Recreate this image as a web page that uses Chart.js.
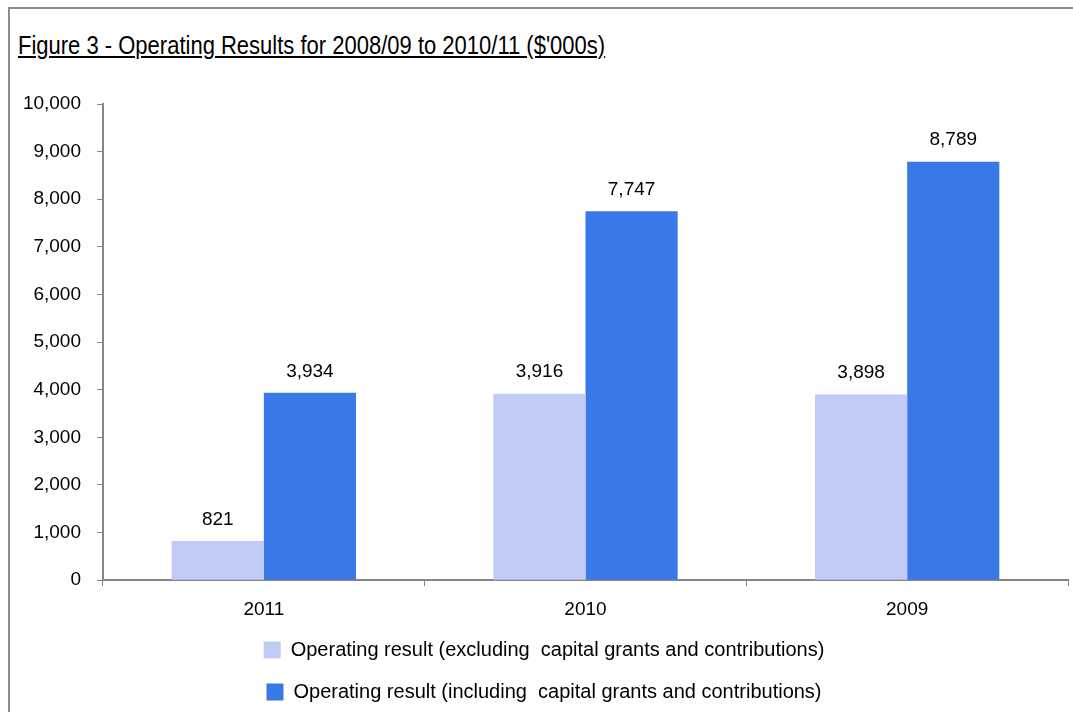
<!DOCTYPE html>
<html>
<head>
<meta charset="utf-8">
<script src="https://cdn.jsdelivr.net/npm/chart.js@4.4.1/dist/chart.umd.min.js"></script>
<style>
  html, body { margin: 0; padding: 0; background: #fff; overflow: hidden; }
  body { width: 1073px; height: 712px; position: relative; }
  #frame {
    position: absolute; left: 8px; top: 7px; width: 1100px; height: 720px;
    border-top: 2px solid #8c8c8c; border-left: 2px solid #8c8c8c;
  }
  #title {
    position: absolute; left: 18px; top: 31px;
    font-family: 'Liberation Sans Narrow', 'Arial Narrow', 'Liberation Sans', sans-serif;
    font-size: 25px; color: #000; text-decoration: underline;
    white-space: nowrap; transform: scaleX(0.88); transform-origin: left top;
  }
  #wrap { position: absolute; left: 0; top: 0; width: 1073px; height: 712px; }
</style>
</head>
<body>
<div id="frame"></div>
<div id="title">Figure 3 - Operating Results for 2008/09 to 2010/11 ($'000s)</div>
<div id="wrap"><canvas id="chart"></canvas></div>
<script>
// ── Data ─────────────────────────────────────────────────────
const years = ['2011', '2010', '2009'];
const excluding = [821, 3916, 3898];
const including = [3934, 7747, 8789];
const seriesNames = [
  'Operating result (excluding  capital grants and contributions)',
  'Operating result (including  capital grants and contributions)'
];

const lightBlue = '#c0cbf6';
const blue = '#3b78e7';
const axisGrey = '#868686';
const fontFamily = "'Liberation Sans Narrow', 'Arial Narrow', 'Liberation Sans', sans-serif";

// ── Value labels above bars ──────────────────────────────────
const valueLabels = {
  id: 'valueLabels',
  afterDatasetsDraw(chart) {
    const ctx = chart.ctx;
    ctx.save();
    ctx.font = `19px ${fontFamily}`;
    ctx.fillStyle = '#000';
    ctx.textAlign = 'center';
    ctx.textBaseline = 'bottom';
    chart.data.datasets.forEach((ds, i) => {
      chart.getDatasetMeta(i).data.forEach((bar, j) => {
        ctx.fillText(ds.data[j].toLocaleString('en-US'), bar.x, bar.y - 12);
      });
    });
    ctx.restore();
  }
};

Chart.defaults.font.family = fontFamily;
Chart.defaults.font.size = 19;
Chart.defaults.color = '#000';

new Chart(document.getElementById('chart'), {
  type: 'bar',
  data: {
    labels: years,
    datasets: [
      { label: seriesNames[0], data: excluding, backgroundColor: lightBlue },
      { label: seriesNames[1], data: including, backgroundColor: blue }
    ]
  },
  options: {
    responsive: true, maintainAspectRatio: false, animation: false,
    categoryPercentage: 0.573, barPercentage: 1,
    layout: { padding: { left: 20, right: 5, top: 104, bottom: 0 } },
    plugins: {
      legend: {
        position: 'bottom',
        labels: { boxWidth: 17, boxHeight: 17, padding: 22, font: { size: 20 } }
      },
      tooltip: { enabled: false }
    },
    scales: {
      x: {
        afterFit: s => { s.height -= 15; },
        grid: { display: true, offset: true, drawOnChartArea: false, tickLength: 6, color: axisGrey },
        border: { color: axisGrey, width: 2 },
        ticks: { padding: 12 }
      },
      y: {
        min: 0, max: 10000,
        afterFit: s => { s.width = 83; },
        grid: { drawOnChartArea: false, tickLength: 6, color: axisGrey },
        border: { color: axisGrey, width: 2 },
        ticks: { stepSize: 1000, padding: 16, callback: v => v.toLocaleString('en-US') }
      }
    }
  },
  plugins: [valueLabels]
});
</script>
</body>
</html>
